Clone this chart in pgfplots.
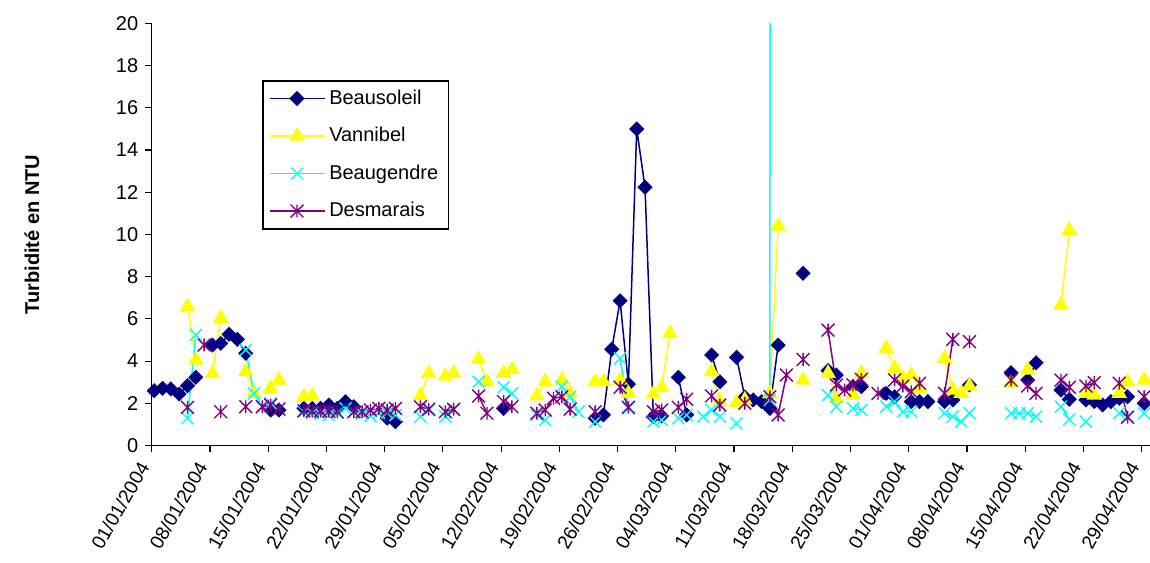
\documentclass[border=0pt]{standalone}
\usepackage{pgfplots}
\pgfplotsset{compat=1.18}
\usepackage{pgfplotstable}
\usepackage{fontspec}
\setmainfont{Liberation Sans}
\definecolor{cB}{HTML}{000080}
\definecolor{cV}{HTML}{FFFF00}
\definecolor{cG}{HTML}{00FFFF}
\definecolor{cM}{HTML}{800080}
\pgfdeclareplotmark{xstar}{%
  \pgfpathmoveto{\pgfqpoint{0pt}{\pgfplotmarksize}}\pgfpathlineto{\pgfqpoint{0pt}{-\pgfplotmarksize}}%
  \pgfpathmoveto{\pgfqpoint{-\pgfplotmarksize}{-\pgfplotmarksize}}\pgfpathlineto{\pgfqpoint{\pgfplotmarksize}{\pgfplotmarksize}}%
  \pgfpathmoveto{\pgfqpoint{-\pgfplotmarksize}{\pgfplotmarksize}}\pgfpathlineto{\pgfqpoint{\pgfplotmarksize}{-\pgfplotmarksize}}%
  \pgfusepathqstroke}
\pgfdeclareplotmark{xcross}{%
  \pgfpathmoveto{\pgfqpoint{-\pgfplotmarksize}{-\pgfplotmarksize}}\pgfpathlineto{\pgfqpoint{\pgfplotmarksize}{\pgfplotmarksize}}%
  \pgfpathmoveto{\pgfqpoint{-\pgfplotmarksize}{\pgfplotmarksize}}\pgfpathlineto{\pgfqpoint{\pgfplotmarksize}{-\pgfplotmarksize}}%
  \pgfusepathqstroke}

% day index (0 = 01/01/2004), turbidity in NTU; nan = no sample
\pgfplotstableread{
d y
0 2.60
1 2.71
2 2.68
3 2.44
4 2.83
5 3.23
6 nan
7 4.76
8 4.84
9 5.27
10 5.03
11 4.37
12 nan
14 1.68
15 1.68
16 nan
18 1.76
19 1.76
20 1.76
21 1.92
22 1.76
23 2.08
24 1.84
25 nan
28 1.29
29 1.13
30 nan
42 1.76
43 nan
53 1.29
54 1.45
55 4.56
56 6.86
57 2.91
58 15.0
59 12.24
60 1.37
61 1.40
62 nan
63 3.23
64 1.45
65 nan
67 4.29
68 3.02
69 nan
70 4.18
71 2.30
72 2.16
73 2.08
74 1.76
75 4.76
76 nan
78 8.16
79 nan
81 3.55
82 3.34
83 nan
84 2.79
85 2.79
86 nan
88 2.47
89 2.31
90 nan
91 2.08
92 2.08
93 2.08
94 nan
95 2.08
96 2.16
97 nan
98 2.87
99 nan
103 3.45
104 nan
105 3.10
106 3.92
107 nan
109 2.63
110 2.19
111 nan
112 2.16
113 2.08
114 1.92
115 2.08
116 2.24
117 2.31
118 nan
119 2.00
}\beau

\pgfplotstableread{
d y
4 6.58
5 4.05
6 nan
7 3.42
8 6.03
9 nan
11 3.50
12 2.47
13 nan
14 2.71
15 3.10
16 nan
18 2.31
19 2.35
20 nan
32 2.35
33 3.42
34 nan
35 3.29
36 3.42
37 nan
39 4.08
40 3.02
41 nan
42 3.42
43 3.61
44 nan
46 2.35
47 3.02
48 nan
49 3.10
50 2.47
51 nan
53 3.02
54 3.02
55 nan
56 3.10
57 2.47
58 nan
60 2.44
61 2.76
62 5.32
63 nan
67 3.50
68 2.10
69 nan
70 2.03
71 2.16
72 nan
74 2.45
75 10.40
76 nan
78 3.10
79 nan
81 3.42
82 2.24
83 nan
84 2.39
85 3.42
86 nan
88 4.61
89 3.66
90 3.18
91 3.34
92 2.71
93 nan
95 4.13
96 2.63
97 2.47
98 2.82
99 nan
103 2.95
104 nan
105 3.58
106 nan
109 6.66
110 10.20
111 nan
112 2.47
113 2.39
114 nan
116 2.47
117 3.02
118 nan
119 3.10
}\vann

\pgfplotstableread{
d y
4 1.29
5 5.24
6 nan
11 4.53
12 2.47
13 1.84
14 2.00
15 nan
18 1.60
19 1.55
20 1.50
21 1.45
22 1.55
23 1.76
24 1.60
25 1.50
26 1.40
27 1.55
28 1.55
29 1.45
30 nan
32 1.37
33 1.68
34 nan
35 1.37
36 1.68
37 nan
39 3.02
40 nan
42 2.76
43 2.47
44 nan
46 1.45
47 1.21
48 nan
49 2.79
50 2.31
51 1.60
52 nan
53 1.13
54 nan
56 4.13
57 1.76
58 nan
60 1.13
61 1.21
62 nan
63 1.29
64 1.45
65 nan
66 1.37
67 1.68
68 1.37
69 nan
70 1.05
71 nan
74 2.16
75 500
76 nan
81 2.39
82 1.84
83 nan
84 1.76
85 1.68
86 nan
88 1.84
89 2.08
90 1.60
91 1.60
92 nan
95 1.53
96 1.37
97 1.13
98 1.53
99 nan
103 1.53
104 1.53
105 1.53
106 1.37
107 nan
109 1.84
110 1.24
111 nan
112 1.13
113 nan
116 1.53
117 1.37
118 nan
119 1.53
}\beaug

\pgfplotstableread{
d y
4 1.81
5 nan
6 4.76
7 nan
8 1.60
9 nan
11 1.84
12 nan
13 1.84
14 1.92
15 1.73
16 nan
18 1.65
19 1.62
20 1.62
21 1.62
22 1.60
23 nan
24 1.60
25 1.60
26 1.68
27 1.76
28 1.68
29 1.76
30 nan
32 1.84
33 1.72
34 nan
35 1.60
36 1.72
37 nan
39 2.35
40 1.53
41 nan
42 2.08
43 1.84
44 nan
46 1.53
47 1.68
48 2.24
49 2.31
50 1.72
51 nan
53 1.60
54 nan
56 2.76
57 1.81
58 nan
60 1.60
61 1.68
62 nan
63 1.81
64 2.19
65 nan
67 2.35
68 1.92
69 nan
71 2.00
72 nan
74 2.31
75 1.45
76 3.34
77 nan
78 4.08
79 nan
81 5.47
82 2.87
83 2.63
84 2.87
85 3.14
86 nan
87 2.47
88 nan
89 3.10
90 2.82
91 2.55
92 2.95
93 nan
95 2.47
96 5.03
97 nan
98 4.92
99 nan
103 3.10
104 nan
105 2.82
106 2.47
107 nan
109 3.10
110 2.76
111 nan
112 2.82
113 2.98
114 nan
116 2.95
117 1.34
118 nan
119 2.31
}\desm

\begin{document}
\begin{tikzpicture}
\begin{axis}[
  scale only axis, width=499.15pt, height=211pt,
  at={(0pt,0pt)}, anchor=south west,
  xmin=0, xmax=120, ymin=0, ymax=20,
  axis x line*=bottom, axis y line*=left,
  axis line style={line width=0.75pt, black},
  tick align=outside, major tick length=3.2pt,
  tick style={line width=0.6pt, black},
  xtick={0,7,...,119},
  xticklabels={01/01/2004,08/01/2004,15/01/2004,22/01/2004,29/01/2004,05/02/2004,12/02/2004,19/02/2004,26/02/2004,04/03/2004,11/03/2004,18/03/2004,25/03/2004,01/04/2004,08/04/2004,15/04/2004,22/04/2004,29/04/2004},
  ytick={0,2,...,20},
  /pgf/number format/assume math mode=true,
  yticklabel style={font=\fontsize{10}{12}\selectfont},
  xticklabel style={font=\fontsize{9.6}{11}\selectfont, xshift=-2pt, yshift=-3pt, rotate=60, anchor=east},
  ylabel={Turbidité en NTU},
  every axis y label/.style={at={(axis description cs:-0.1199,0.5)}, rotate=90, anchor=center, font=\bfseries\fontsize{10}{12}\selectfont},
  unbounded coords=jump,
  legend style={at={(0.1105,0.866)}, anchor=north west, draw=black, line width=0.75pt,
    font=\fontsize{10}{12}\selectfont, row sep=6pt, inner xsep=3pt, inner ysep=2.5pt},
  legend cell align=left,
  legend image code/.code={\draw[mark repeat=2,mark phase=2,#1] plot coordinates {(0pt,0pt) (13.75pt,0pt) (27.5pt,0pt)};},
]
\addplot[color=cB, line width=0.75pt, mark=square*, mark size=2.3pt, mark options={rotate=45, fill=cB, draw=cB, solid}]
  table[x expr=\thisrow{d}+0.3, y=y] {\beau};
\addlegendentry{Beausoleil}
\addplot[color=cV, line width=0.75pt, mark=triangle*, mark size=3.8pt, mark options={fill=cV, draw=cV, solid}]
  table[x expr=\thisrow{d}+0.3, y=y] {\vann};
\addlegendentry{Vannibel}
\addplot[color=cG, line width=0.75pt, mark=xcross, mark size=3pt, mark options={draw=cG, line width=0.7pt, solid}]
  table[x expr=\thisrow{d}+0.3, y=y] {\beaug};
\addlegendentry{Beaugendre}
\addplot[color=cM, line width=0.75pt, mark=xstar, mark size=3.2pt, mark options={draw=cM, line width=0.7pt, solid}]
  table[x expr=\thisrow{d}+0.3, y=y] {\desm};
\addlegendentry{Desmarais}
\end{axis}
\pgfresetboundingbox
\path[use as bounding box] (-75.85pt,-58.25pt) rectangle (499.15pt,222.75pt);
\end{tikzpicture}
\end{document}
